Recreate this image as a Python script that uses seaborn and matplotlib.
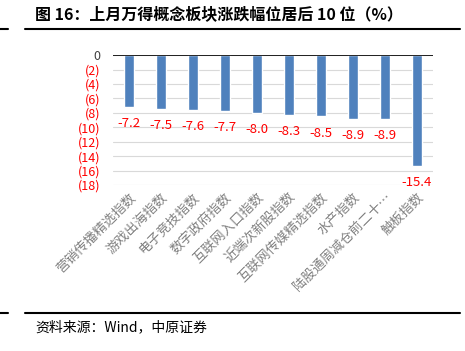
import matplotlib
matplotlib.use("Agg")
import matplotlib.pyplot as plt
import seaborn as sns
import pandas as pd

categories = ["营销传播精选指数", "游戏出海指数", "电子竞技指数", "数字政府指数", "互联网入口指数",
              "近端次新股指数", "互联网传媒精选指数", "水产指数", "陆股通周减仓前二十…", "触板指数"]
values = [-7.2, -7.5, -7.6, -7.7, -8.0, -8.3, -8.5, -8.9, -8.9, -15.4]
yticks = [0, -2, -4, -6, -8, -10, -12, -14, -16, -18]

df = pd.DataFrame({"name": categories, "pct": values})

sns.set_style("white")
plt.rcParams["font.family"] = ["Noto Sans CJK SC", "DejaVu Sans"]

fig = plt.figure(figsize=(4.65, 3.51), dpi=100)
ax = fig.add_axes([0.243, 0.473, 0.688, 0.37])
sns.barplot(data=df, x="name", y="pct", color="#4F81BD", width=0.31, saturation=1, ax=ax)

ax.set_ylim(-18, 0)
ax.set_yticks(yticks)
ax.set_yticklabels(["0" if v == 0 else f"({-v})" for v in yticks], fontsize=9)
for lab, v in zip(ax.get_yticklabels(), yticks):
    lab.set_color("#404040" if v == 0 else "#FF0000")
ax.yaxis.grid(True, color="#D9D9D9", lw=0.8)
ax.set_axisbelow(True)
ax.axhline(0, color="black", lw=1.2)
for s in ax.spines.values():
    s.set_visible(False)
ax.tick_params(axis="y", length=0, pad=9)
ax.tick_params(axis="x", length=0, pad=4)
ax.set_xlabel("")
ax.set_ylabel("")

ax.set_xticks(range(len(categories)))
ax.set_xticklabels(categories, rotation=45, ha="right", va="top", rotation_mode="anchor",
                   fontsize=9.5, color="#808080")

for i, v in enumerate(values):
    ax.annotate(f"{v:.1f}", (i, v), xytext=(0, -12), textcoords="offset points",
                ha="center", va="center", color="#FF0000", fontsize=9.5)

fig.text(0.075, 0.96, "图 16：上月万得概念板块涨跌幅位居后 10 位（%）", fontsize=11.5,
         fontweight="bold", va="center", color="black")
fig.text(0.075, 0.068, "资料来源：Wind，中原证券", fontsize=10, va="center", color="black")

for y in (1 - 29 / 351, 1 - 313 / 351):
    fig.add_artist(plt.Line2D([25 / 465, 460 / 465], [y, y], color="black", lw=1.5))
    fig.add_artist(plt.Line2D([0, 8 / 465], [y, y], color="black", lw=1.5))

fig.savefig("out.png", dpi=100)
